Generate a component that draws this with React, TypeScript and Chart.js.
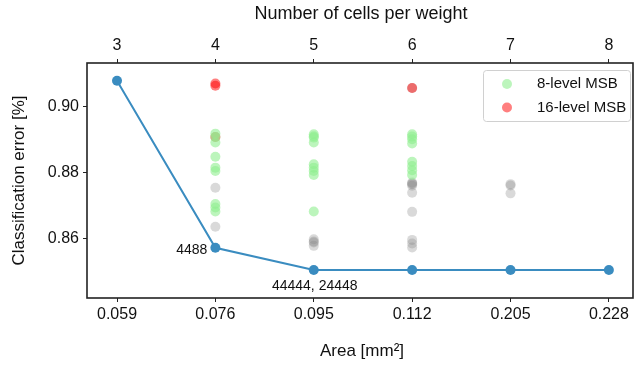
import React, { useEffect, useRef } from "react";
import { Chart, registerables } from "chart.js";

Chart.register(...registerables);

// ---- data ----
const areaLabels = ["0.059", "0.076", "0.095", "0.112", "0.205", "0.228"];
const cellsLabels = ["3", "4", "5", "6", "7", "8"];
const yTicks = [0.86, 0.88, 0.9];

// best classification error per area (blue line)
const bestError = [0.9079, 0.8573, 0.8506, 0.8506, 0.8506, 0.8506];

// all configurations (grey), per area index
const otherConfigs: number[][] = [
  [],
  [0.8755, 0.8637],
  [0.8599, 0.8592, 0.8589, 0.8579],
  [0.9057, 0.8771, 0.8768, 0.8766, 0.8761, 0.8740, 0.8682, 0.8597, 0.8586, 0.8574],
  [0.8766, 0.8762, 0.8738],
  [],
];
// 8-level MSB configurations (green)
const msb8: number[][] = [
  [],
  [0.8919, 0.8909, 0.8892, 0.8849, 0.8816, 0.8806, 0.8706, 0.8695, 0.8683],
  [0.8917, 0.8911, 0.8907, 0.8892, 0.8826, 0.8816, 0.8806, 0.8794, 0.8683],
  [0.8917, 0.8910, 0.8902, 0.8889, 0.8834, 0.8821, 0.8808, 0.8794],
  [],
  [],
];
// 16-level MSB configurations (red)
const msb16: number[][] = [[], [0.9071, 0.9064, 0.8909], [], [0.9057], [], []];

const annotations = [
  { index: 1, text: "4488" },
  { index: 2, text: "44444, 24448" },
];

const toPoints = (arr: number[][]) =>
  arr.flatMap((vals, i) => vals.map((v) => ({ x: i, y: v })));

const FONT = '"Liberation Sans", Arial, sans-serif';
const BLUE = "#3a8cc0";

export default function App() {
  const ref = useRef<HTMLCanvasElement | null>(null);

  useEffect(() => {
    if (!ref.current) return;
    const overlay = {
      id: "overlay",
      afterDatasetsDraw(chart: any) {
        const { ctx, chartArea } = chart;
        const xs = chart.scales.x;
        const ys = chart.scales.y;
        ctx.save();
        // frame
        ctx.strokeStyle = "#222";
        ctx.lineWidth = 1.6;
        ctx.strokeRect(chartArea.left, chartArea.top, chartArea.right - chartArea.left, chartArea.bottom - chartArea.top);
        // annotations
        ctx.fillStyle = "#111";
        ctx.font = `14px ${FONT}`;
        const a0 = annotations[0];
        ctx.textAlign = "right";
        ctx.textBaseline = "middle";
        ctx.fillText(a0.text, xs.getPixelForValue(a0.index) - 8, ys.getPixelForValue(bestError[a0.index]) + 2);
        const a1 = annotations[1];
        ctx.textAlign = "center";
        ctx.fillText(a1.text, xs.getPixelForValue(a1.index) + 1, ys.getPixelForValue(bestError[a1.index]) + 16);
        // titles
        ctx.font = `18px ${FONT}`;
        ctx.textAlign = "center";
        ctx.textBaseline = "alphabetic";
        const cx = (chartArea.left + chartArea.right) / 2;
        ctx.fillText("Number of cells per weight", cx + 1, 19);
        ctx.font = `17px ${FONT}`;
        ctx.fillText("Area [mm²]", cx + 2, 356);
        ctx.save();
        ctx.translate(19, (chartArea.top + chartArea.bottom) / 2);
        ctx.rotate(-Math.PI / 2);
        ctx.textBaseline = "middle";
        ctx.fillText("Classification error [%]", 0, 0);
        ctx.restore();
        // legend
        const lx = 483, ly = 70, lw = 147, lh = 51;
        ctx.fillStyle = "rgba(255,255,255,0.8)";
        ctx.strokeStyle = "#d0d0d0";
        ctx.lineWidth = 1;
        ctx.beginPath();
        (ctx as any).roundRect(lx + 0.5, ly + 0.5, lw, lh, 3);
        ctx.fill();
        ctx.stroke();
        const items = [
          { label: "8-level MSB", color: "rgba(144,238,144,0.6)" },
          { label: "16-level MSB", color: "rgba(255,0,0,0.5)" },
        ];
        ctx.font = `15px ${FONT}`;
        ctx.textAlign = "left";
        ctx.textBaseline = "middle";
        items.forEach((it, i) => {
          const y = 84 + i * 23.5;
          ctx.fillStyle = it.color;
          ctx.beginPath();
          ctx.arc(507, y, 5, 0, Math.PI * 2);
          ctx.fill();
          ctx.fillStyle = "#111";
          ctx.fillText(it.label, 537, y);
        });
        ctx.restore();
      },
    };

    const fixTicks = (vals: number[]) => (scale: any) => {
      scale.ticks = vals.map((v) => ({ value: v }));
    };
    const fitH = (h: number) => (s: any) => {
      s.height = h;
      s.paddingLeft = 0;
      s.paddingRight = 0;
    };

    const chart = new Chart(ref.current, {
      type: "scatter",
      data: {
        datasets: [
          {
            label: "best",
            data: bestError.map((v, i) => ({ x: i, y: v })),
            showLine: true,
            borderColor: BLUE,
            backgroundColor: BLUE,
            borderWidth: 2,
            pointRadius: 5,
            pointBorderWidth: 0,
            order: 0,
          },
          {
            label: "8-level MSB",
            data: toPoints(msb8),
            backgroundColor: "rgba(144,238,144,0.6)",
            borderWidth: 0,
            pointRadius: 5,
            order: 1,
          },
          {
            label: "16-level MSB",
            data: toPoints(msb16),
            backgroundColor: "rgba(255,0,0,0.5)",
            borderWidth: 0,
            pointRadius: 5,
            order: 2,
          },
          {
            label: "other",
            data: toPoints(otherConfigs),
            backgroundColor: "rgba(128,128,128,0.3)",
            borderWidth: 0,
            pointRadius: 5,
            order: 3,
          },
        ],
      },
      options: {
        responsive: false,
        animation: false,
        layout: { autoPadding: false, padding: { left: 0, right: 1, top: 0, bottom: 0 } },
        plugins: { legend: { display: false }, tooltip: { enabled: false } },
        scales: {
          x: {
            type: "linear",
            position: "bottom",
            min: -0.305,
            max: 5.245,
            afterBuildTicks: fixTicks(areaLabels.map((_, i) => i)),
            afterFit: fitH(69),
            grid: { drawOnChartArea: false, drawTicks: true, tickLength: 4, color: "#222" },
            border: { display: false },
            ticks: {
              autoSkip: false,
              maxRotation: 0,
              padding: 3,
              color: "#111",
              font: { family: FONT, size: 16 },
              callback: (v: any) => areaLabels[v] ?? "",
            },
          },
          x2: {
            type: "linear",
            position: "top",
            min: -0.305,
            max: 5.245,
            afterBuildTicks: fixTicks(cellsLabels.map((_, i) => i)),
            afterFit: fitH(63),
            grid: { drawOnChartArea: false, drawTicks: true, tickLength: 4, color: "#222" },
            border: { display: false },
            ticks: {
              autoSkip: false,
              maxRotation: 0,
              padding: 4,
              color: "#111",
              font: { family: FONT, size: 16 },
              callback: (v: any) => cellsLabels[v] ?? "",
            },
          },
          y: {
            type: "linear",
            min: 0.8421,
            max: 0.9133,
            afterBuildTicks: fixTicks(yTicks),
            afterFit: (s: any) => {
              s.width = 87;
              s.paddingTop = 0;
              s.paddingBottom = 0;
            },
            grid: { drawOnChartArea: false, drawTicks: true, tickLength: 4, color: "#222" },
            border: { display: false },
            ticks: {
              padding: 4,
              color: "#111",
              font: { family: FONT, size: 16 },
              callback: (v: any) => Number(v).toFixed(2),
            },
          },
        },
      },
      plugins: [overlay],
    } as any);
    return () => chart.destroy();
  }, []);

  return (
    <div style={{ position: "absolute", left: 0, top: 0, width: 634, height: 367, background: "#fff" }}>
      <canvas ref={ref} width={634} height={367} style={{ display: "block" }} />
    </div>
  );
}
